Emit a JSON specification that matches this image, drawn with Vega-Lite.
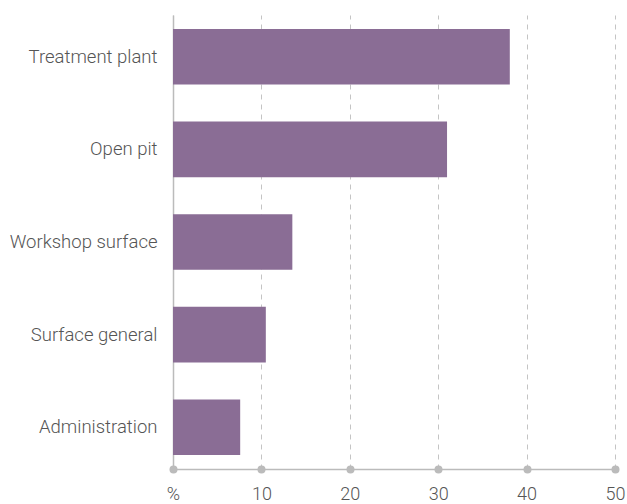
{
  "$schema": "https://vega.github.io/schema/vega-lite/v6.json",
  "autosize": {"type": "none"},
  "padding": {"left": 173, "top": 15, "right": 12, "bottom": 35},
  "width": 442,
  "height": 454,
  "background": "white",
  "config": {"view": {"stroke": null}, "font": "Roboto"},
  "data": {"values": [
    {"category": "Treatment plant", "value": 38.1},
    {"category": "Open pit", "value": 31.0},
    {"category": "Workshop surface", "value": 13.5},
    {"category": "Surface general", "value": 10.5},
    {"category": "Administration", "value": 7.6}
  ]},
  "mark": {"type": "bar", "color": "#8a6d95"},
  "encoding": {
    "y": {
      "field": "category", "type": "nominal", "sort": null,
      "scale": {"paddingInner": 0.4, "paddingOuter": 0.15},
      "axis": {
        "title": null, "ticks": false, "labelPadding": 16, "labelFontSize": 18.5,
        "labelFont": "Roboto", "labelFontWeight": 300, "labelColor": "#555555",
        "domainColor": "#bbbbbb", "domainWidth": 1.5, "grid": false
      }
    },
    "x": {
      "field": "value", "type": "quantitative",
      "scale": {"domain": [0, 50], "nice": false},
      "axis": {
        "title": null, "values": [0, 10, 20, 30, 40, 50],
        "labelExpr": "datum.value == 0 ? '%' : datum.label",
        "labelFlush": false, "labelOverlap": false,
        "labelFontSize": 18, "labelFont": "Roboto", "labelFontWeight": 300,
        "labelColor": "#555555", "labelPadding": 16,
        "domainColor": "#bbbbbb", "domainWidth": 1.5,
        "tickSize": 0, "tickWidth": 8, "tickCap": "round", "tickColor": "#bbbbbb",
        "grid": true, "gridColor": "#c4c4c4", "gridDash": [5, 5], "gridWidth": 1
      }
    }
  }
}
